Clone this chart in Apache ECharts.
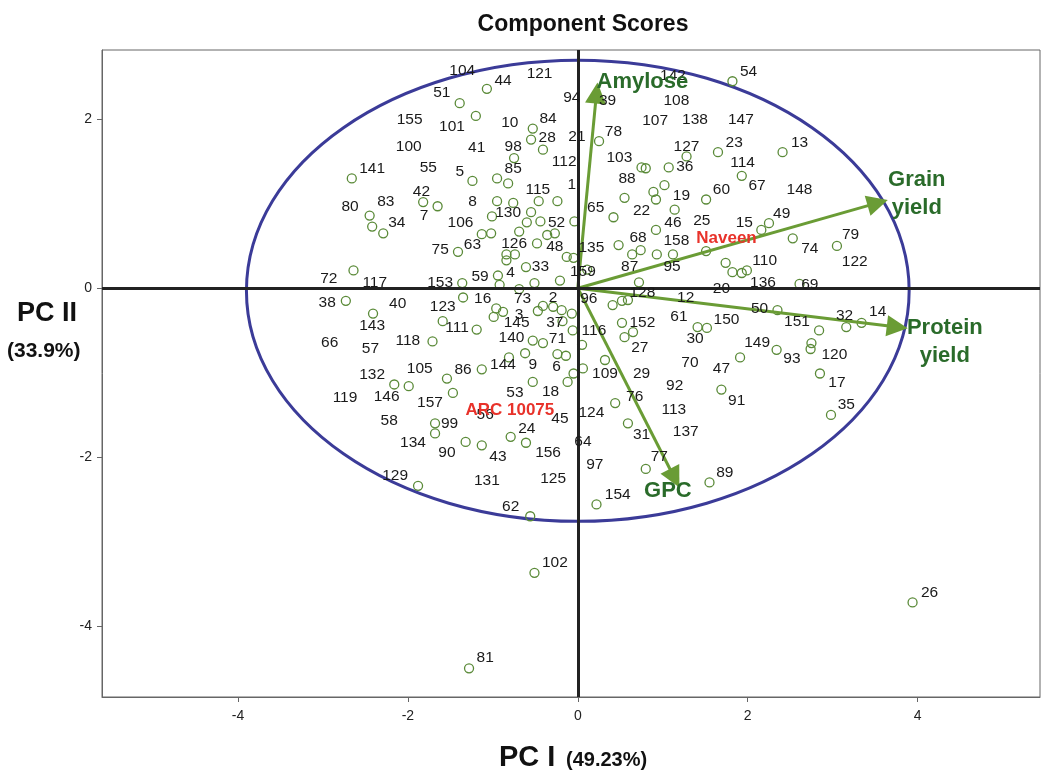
<!DOCTYPE html>
<html>
<head>
<meta charset="utf-8">
<script src="https://cdn.jsdelivr.net/npm/echarts@6/dist/echarts.min.js"></script>
<style>
html,body{margin:0;padding:0;background:#fff;}
#chart{width:1046px;height:771px;}
</style>
</head>
<body>
<div id="chart"></div>
<script>
// Genotype score points (PC I, PC II)
const genotypePoints = [
[-2.66,1.30],[-2.45,0.86],[-2.42,0.73],[-2.29,0.65],[-1.82,1.02],[-1.65,0.97],[-1.39,2.19],[-1.07,2.36],
[-1.20,2.04],[-0.53,1.89],[-0.55,1.76],[-0.41,1.64],[-0.75,1.54],[-1.24,1.27],[-0.95,1.30],[-0.82,1.24],
[-0.95,1.03],[-0.76,1.01],[-0.46,1.03],[-0.24,1.03],[-1.01,0.85],[-0.55,0.90],[-0.60,0.78],[-0.44,0.79],
[-0.04,0.79],[-1.13,0.64],[-1.02,0.65],[-0.69,0.67],[-0.36,0.63],[-0.27,0.65],[-1.41,0.43],[-0.84,0.40],
[-0.74,0.40],[-0.84,0.33],[-0.48,0.53],[-0.13,0.37],[-0.05,0.36],[-0.61,0.25],[-0.94,0.15],[-0.21,0.09],
[-0.51,0.06],[-0.92,0.04],[-1.36,0.06],[-0.69,-0.01],[-1.35,-0.11],[-0.96,-0.24],[-0.88,-0.28],[-0.99,-0.34],
[-0.47,-0.27],[-0.41,-0.21],[-0.29,-0.22],[-0.19,-0.26],[-0.07,-0.30],[-0.18,-0.39],[-0.06,-0.50],[0.05,-0.67],
[-1.59,-0.39],[-1.19,-0.49],[-1.71,-0.63],[-0.53,-0.62],[-0.41,-0.65],[-0.24,-0.78],[-0.14,-0.80],[-0.62,-0.77],
[-0.81,-0.82],[-1.13,-0.96],[-1.54,-1.07],[-1.47,-1.24],[-0.12,-1.11],[-0.05,-1.01],[-0.53,-1.11],[-2.16,-1.14],
[-1.99,-1.16],[-2.64,0.21],[-2.73,-0.15],[-2.41,-0.30],[-1.88,-2.34],[-1.68,-1.60],[-1.68,-1.72],[-1.32,-1.82],
[-1.13,-1.86],[-0.79,-1.76],[-0.61,-1.83],[-0.56,-2.70],[0.22,-2.56],[0.59,-1.60],[0.80,-2.14],[1.55,-2.30],
[0.44,-1.36],[0.32,-0.85],[0.06,-0.95],[1.69,-1.20],[1.91,-0.82],[0.41,-0.20],[0.52,-0.15],[0.59,-0.14],
[0.52,-0.41],[0.55,-0.58],[0.65,-0.52],[1.41,-0.46],[1.52,-0.47],[2.34,-0.73],[2.35,-0.26],[0.72,0.07],
[0.11,0.22],[0.48,0.51],[0.64,0.40],[0.74,0.45],[0.93,0.40],[1.12,0.40],[1.51,0.44],[1.74,0.30],
[1.82,0.19],[1.93,0.18],[1.99,0.21],[0.92,0.69],[0.42,0.84],[0.55,1.07],[0.89,1.14],[0.92,1.05],
[1.02,1.22],[1.14,0.93],[1.51,1.05],[0.75,1.43],[0.80,1.42],[1.07,1.43],[1.28,1.56],[1.65,1.61],
[1.93,1.33],[2.41,1.61],[2.25,0.77],[2.16,0.69],[0.25,1.74],[1.82,2.45],[2.53,0.59],[3.05,0.50],
[2.61,0.05],[3.16,-0.46],[3.34,-0.41],[2.84,-0.50],[2.75,-0.65],[2.74,-0.72],[2.85,-1.01],[2.98,-1.50],
[-0.51,-3.37],[-1.28,-4.50],[3.94,-3.72]
];

// Genotype number labels as printed on the plot: [PC I, PC II, label]
const genotypeLabels = [
[-2.42,1.41,'141'],[-2.68,0.96,'80'],[-2.26,1.02,'83'],[-2.13,0.77,'34'],[-1.84,1.14,'42'],[-1.81,0.86,'7'],
[-1.98,1.99,'155'],[-1.99,1.68,'100'],[-1.76,1.43,'55'],[-1.36,2.58,'104'],[-0.88,2.46,'44'],[-0.45,2.54,'121'],
[-1.60,2.31,'51'],[-0.07,2.26,'94'],[-1.48,1.91,'101'],[-0.80,1.96,'10'],[-0.35,2.01,'84'],[-0.36,1.78,'28'],
[-0.01,1.79,'21'],[-1.19,1.66,'41'],[-0.76,1.67,'98'],[-0.16,1.50,'112'],[-1.39,1.38,'5'],[-0.76,1.42,'85'],
[-0.47,1.17,'115'],[-0.07,1.22,'1'],[-1.24,1.02,'8'],[-0.82,0.89,'130'],[-0.25,0.78,'52'],[-1.38,0.77,'106'],
[0.21,0.95,'65'],[1.12,2.52,'142'],[0.35,2.22,'39'],[1.16,2.22,'108'],[2.01,2.56,'54'],[0.91,1.98,'107'],
[1.38,1.99,'138'],[1.92,1.99,'147'],[0.42,1.85,'78'],[1.28,1.68,'127'],[1.84,1.72,'23'],[0.49,1.55,'103'],
[1.26,1.44,'36'],[1.94,1.48,'114'],[0.58,1.30,'88'],[2.11,1.21,'67'],[1.69,1.16,'60'],[1.22,1.09,'19'],
[0.75,0.92,'22'],[1.12,0.78,'46'],[1.46,0.80,'25'],[1.96,0.78,'15'],[2.61,1.72,'13'],[2.61,1.17,'148'],
[2.40,0.88,'49'],[3.21,0.63,'79'],[2.73,0.47,'74'],[3.26,0.31,'122'],[2.20,0.32,'110'],[0.71,0.60,'68'],
[1.16,0.56,'158'],[0.16,0.48,'135'],[-1.62,0.45,'75'],[-1.24,0.51,'63'],[-0.75,0.53,'126'],[-0.27,0.49,'48'],
[-0.44,0.25,'33'],[-0.79,0.18,'4'],[-1.15,0.13,'59'],[0.06,0.19,'159'],[-1.62,0.06,'153'],[-1.12,-0.12,'16'],
[-0.65,-0.12,'73'],[-0.29,-0.11,'2'],[0.13,-0.12,'96'],[-1.59,-0.22,'123'],[-0.69,-0.31,'3'],[-0.72,-0.41,'145'],
[-0.27,-0.41,'37'],[-1.42,-0.47,'111'],[0.19,-0.50,'116'],[-0.78,-0.59,'140'],[-0.24,-0.60,'71'],[-0.88,-0.91,'144'],
[-0.53,-0.91,'9'],[-0.25,-0.93,'6'],[-1.35,-0.96,'86'],[-1.86,-0.95,'105'],[-0.74,-1.24,'53'],[-0.32,-1.23,'18'],
[-1.74,-1.36,'157'],[-2.93,0.11,'72'],[-2.39,0.07,'117'],[-2.95,-0.17,'38'],[-2.12,-0.18,'40'],[-2.42,-0.45,'143'],
[-2.92,-0.64,'66'],[-2.44,-0.72,'57'],[-2.00,-0.62,'118'],[-2.42,-1.03,'132'],[-2.74,-1.30,'119'],[-2.25,-1.28,'146'],
[0.76,-0.05,'128'],[1.27,-0.11,'12'],[1.69,-0.01,'20'],[2.18,0.06,'136'],[2.73,0.04,'69'],[0.61,0.25,'87'],
[1.11,0.25,'95'],[2.14,-0.24,'50'],[1.19,-0.34,'61'],[1.75,-0.37,'150'],[0.76,-0.41,'152'],[1.38,-0.60,'30'],
[2.11,-0.64,'149'],[0.73,-0.70,'27'],[1.32,-0.88,'70'],[1.69,-0.95,'47'],[0.32,-1.01,'109'],[0.75,-1.01,'29'],
[1.14,-1.16,'92'],[1.87,-1.33,'91'],[0.67,-1.29,'76'],[1.13,-1.44,'113'],[2.58,-0.40,'151'],[3.14,-0.32,'32'],
[3.53,-0.28,'14'],[2.52,-0.83,'93'],[3.02,-0.79,'120'],[3.05,-1.12,'17'],[3.16,-1.38,'35'],[-2.22,-1.57,'58'],
[-1.94,-1.83,'134'],[-2.15,-2.22,'129'],[-1.51,-1.60,'99'],[-1.09,-1.50,'56'],[-0.21,-1.54,'45'],[0.16,-1.48,'124'],
[-0.60,-1.66,'24'],[-1.54,-1.95,'90'],[-0.94,-1.99,'43'],[-0.35,-1.95,'156'],[0.06,-1.82,'64'],[0.20,-2.09,'97'],
[-1.07,-2.28,'131'],[-0.29,-2.25,'125'],[-0.79,-2.59,'62'],[0.75,-1.73,'31'],[1.27,-1.70,'137'],[0.96,-2.00,'77'],
[1.73,-2.18,'89'],[0.47,-2.45,'154'],[-0.27,-3.25,'102'],[-1.09,-4.37,'81'],[4.14,-3.60,'26']
];

// Check varieties highlighted in red
const checkLabels = [[1.75,0.59,'Naveen'],[-0.80,-1.44,'ARC 10075']];

// Trait loading vectors (tips) and their labels
const traitVectors = [
  {name:'Amylose', tip:[0.22,2.31], label:[0.76,2.44]},
  {name:'Grain\nyield', tip:[3.53,1.01], label:[3.99,1.11]},
  {name:'Protein\nyield', tip:[3.76,-0.46], label:[4.32,-0.64]},
  {name:'GPC', tip:[1.14,-2.25], label:[1.06,-2.40]}
];

// Confidence ellipse: centre x, centre y, semi-axis x, semi-axis y
const ellipseParams = [[0, -0.03, 3.9, 2.73]];

const xTicks = [-4,-2,0,2,4];
const yTicks = [-4,-2,0,2];

const FONT = '"Liberation Sans", Arial, sans-serif';
const chart = echarts.init(document.getElementById('chart'), null, {renderer:'canvas'});

const option = {
  animation:false,
  backgroundColor:'#ffffff',
  title:{text:'Component Scores', left:578, top:8, textAlign:'center',
    textStyle:{fontFamily:FONT, fontSize:23, fontWeight:'bold', color:'#111'}},
  grid:{left:102, right:6, top:50, bottom:74, show:true, borderColor:'#666', borderWidth:1, backgroundColor:'#fff'},
  xAxis:{type:'value', min:-5.6, max:5.44,
    axisLine:{show:true, onZero:false, lineStyle:{color:'#666', width:1}},
    axisTick:{show:true, customValues:xTicks, length:5, lineStyle:{color:'#666'}},
    axisLabel:{customValues:xTicks, fontFamily:FONT, fontSize:14, color:'#222', margin:12},
    splitLine:{show:false}},
  yAxis:{type:'value', min:-4.84, max:2.82,
    axisLine:{show:true, onZero:false, lineStyle:{color:'#666', width:1}},
    axisTick:{show:true, customValues:yTicks, length:5, lineStyle:{color:'#666'}},
    axisLabel:{customValues:yTicks, fontFamily:FONT, fontSize:14, color:'#222', margin:10},
    splitLine:{show:false}},
  graphic:[
    {type:'text', left:17, top:300, style:{text:'PC II', font:'bold 27px '+FONT, fill:'#111'}},
    {type:'text', left:7, top:341, style:{text:'(33.9%)', font:'bold 21px '+FONT, fill:'#111'}},
    {type:'text', left:499, top:743, style:{text:'PC I', font:'bold 29px '+FONT, fill:'#111'}},
    {type:'text', left:566, top:750, style:{text:'(49.23%)', font:'bold 20px '+FONT, fill:'#111'}}
  ],
  series:[
    {
      type:'scatter', name:'zero', data:[], z:1,
      markLine:{silent:true, symbol:'none', animation:false, label:{show:false},
        lineStyle:{color:'#222', width:3, type:'solid', opacity:1},
        data:[{xAxis:0},{yAxis:0}]}
    },
    {
      type:'custom', name:'ellipse', z:2, silent:true,
      data:ellipseParams,
      renderItem:function(params, api){
        const c = api.coord([api.value(0), api.value(1)]);
        const r = api.coord([api.value(0)+api.value(2), api.value(1)+api.value(3)]);
        return {type:'ellipse', shape:{cx:c[0], cy:c[1], rx:r[0]-c[0], ry:c[1]-r[1]},
          style:{fill:'none', stroke:'#3b3b98', lineWidth:3}};
      }
    },
    {
      type:'scatter', name:'genotypes', z:3, symbol:'circle', symbolSize:9,
      data:genotypePoints,
      itemStyle:{color:'rgba(255,255,255,0)', borderColor:'#5a8a38', borderWidth:1.3, opacity:1}
    },
    {
      type:'lines', coordinateSystem:'cartesian2d', z:4, silent:true,
      symbol:['none','triangle'], symbolSize:[0,21],
      lineStyle:{color:'#6a9c35', width:3, opacity:1},
      data:traitVectors.map(v=>({coords:[[0,0], v.tip]}))
    },
    {
      type:'scatter', name:'labels', z:5, symbolSize:0, silent:true,
      itemStyle:{opacity:1},
      data:genotypeLabels.map(d=>({value:[d[0],d[1]], name:d[2]})),
      label:{show:true, position:'inside', formatter:p=>p.name, fontFamily:FONT, fontSize:15.5, color:'#1a1a1a'}
    },
    {
      type:'scatter', name:'checks', z:6, symbolSize:0, silent:true,
      itemStyle:{opacity:1},
      data:checkLabels.map(d=>({value:[d[0],d[1]], name:d[2]})),
      label:{show:true, position:'inside', formatter:p=>p.name, fontFamily:FONT, fontSize:17, fontWeight:'bold', color:'#e8322a'}
    },
    {
      type:'scatter', name:'traits', z:7, symbolSize:0, silent:true,
      itemStyle:{opacity:1},
      data:traitVectors.map(v=>({value:v.label, name:v.name})),
      label:{show:true, position:'inside', formatter:p=>p.name, fontFamily:FONT, fontSize:22, fontWeight:'bold', color:'#2a6b2a', lineHeight:28}
    }
  ]
};
chart.setOption(option);
</script>
</body>
</html>
